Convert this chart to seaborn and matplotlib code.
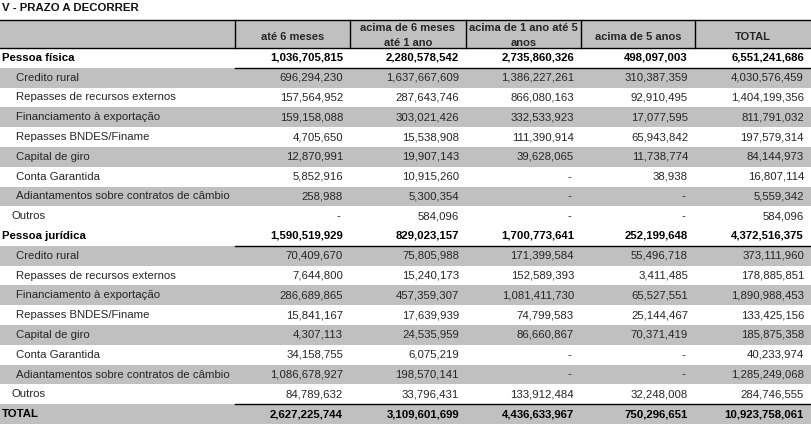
import matplotlib
matplotlib.use("Agg")
import matplotlib.pyplot as plt
from matplotlib.colors import ListedColormap
import numpy as np
import pandas as pd
import seaborn as sns

# ---------------- data ----------------
title = "V - PRAZO A DECORRER"
columns = ["até 6 meses", "acima de 6 meses\naté 1 ano", "acima de 1 ano até 5\nanos",
           "acima de 5 anos", "TOTAL"]

labels = ["Pessoa física", "Credito rural", "Repasses de recursos externos",
          "Financiamento à exportação", "Repasses BNDES/Finame", "Capital de giro",
          "Conta Garantida", "Adiantamentos sobre contratos de câmbio", "Outros",
          "Pessoa jurídica", "Credito rural", "Repasses de recursos externos",
          "Financiamento à exportação", "Repasses BNDES/Finame", "Capital de giro",
          "Conta Garantida", "Adiantamentos sobre contratos de câmbio", "Outros",
          "TOTAL"]
kinds = ["group", "item", "item", "item", "item", "item", "item", "item", "other",
         "group", "item", "item", "item", "item", "item", "item", "item", "other",
         "total"]

ate_6m = [1036705815, 696294230, 157564952, 159158088, 4705650, 12870991, 5852916, 258988, None,
          1590519929, 70409670, 7644800, 286689865, 15841167, 4307113, 34158755, 1086678927, 84789632,
          2627225744]
de_6m_1a = [2280578542, 1637667609, 287643746, 303021426, 15538908, 19907143, 10915260, 5300354, 584096,
            829023157, 75805988, 15240173, 457359307, 17639939, 24535959, 6075219, 198570141, 33796431,
            3109601699]
de_1a_5a = [2735860326, 1386227261, 866080163, 332533923, 111390914, 39628065, None, None, None,
            1700773641, 171399584, 152589393, 1081411730, 74799583, 86660867, None, None, 133912484,
            4436633967]
acima_5a = [498097003, 310387359, 92910495, 17077595, 65943842, 11738774, 38938, None, None,
            252199648, 55496718, 3411485, 65527551, 25144467, 70371419, None, None, 32248008,
            750296651]
total = [6551241686, 4030576459, 1404199356, 811791032, 197579314, 84144973, 16807114, 5559342, 584096,
         4372516375, 373111960, 178885851, 1890988453, 133425156, 185875358, 40233974, 1285249068, 284746555,
         10923758061]

df = pd.DataFrame({columns[0]: ate_6m, columns[1]: de_6m_1a, columns[2]: de_1a_5a,
                   columns[3]: acima_5a, columns[4]: total})

# ---------------- layout (pixels) ----------------
W, H = 811, 424
GRAY = "#c0c0c0"
col_edges = [0, 235, 350, 466, 581, 695, 811]
header_top, header_bot = 20, 48
n_rows = len(labels)
row_h = (H - header_bot) / n_rows

# stripe pattern: alternate items inside each group, total row shaded
shade = []
k = 0
for kind in kinds:
    if kind == "group":
        k = 0
        shade.append(0)
    elif kind == "total":
        shade.append(1)
    else:
        k += 1
        shade.append(k % 2)

fig = plt.figure(figsize=(W / 100, H / 100), dpi=100)
plt.rcParams["font.family"] = ["Liberation Sans", "DejaVu Sans"]

# row stripes through seaborn heatmap
ax_bg = fig.add_axes([0, 0, 1, (H - header_bot) / H])
sns.heatmap(pd.DataFrame({"s": shade}), cmap=ListedColormap(["white", GRAY]), vmin=0, vmax=1,
            cbar=False, xticklabels=False, yticklabels=False, ax=ax_bg)
ax_bg.set_axis_off()

# overlay in pixel coordinates
ax = fig.add_axes([0, 0, 1, 1])
ax.set_xlim(0, W)
ax.set_ylim(H, 0)
ax.set_axis_off()
ax.patch.set_alpha(0)

fs = 8.2
txt = "#262626"

ax.text(2, 8, title, fontsize=fs, fontweight="bold", color="#111111", va="center", ha="left")

# header
ax.add_patch(plt.Rectangle((0, header_top), W, header_bot - header_top, color=GRAY, lw=0))
ax.plot([0, W], [header_top, header_top], color="black", lw=1)
ax.plot([0, W], [header_bot, header_bot], color="black", lw=1)
for x in col_edges[1:-1]:
    ax.plot([x, x], [header_top, header_bot], color="black", lw=1)
for i, c in enumerate(columns):
    cx = (col_edges[i + 1] + col_edges[i + 2]) / 2
    cy = 35.5 if "\n" in c else 36.5
    ax.text(cx, cy, c, fontsize=8, fontweight="bold", color=txt,
            ha="center", va="center", linespacing=1.6)

# body
indent = {"group": 2, "item": 16, "other": 12, "total": 2}
for r in range(n_rows):
    y = header_bot + (r + 0.5) * row_h
    bold = kinds[r] in ("group", "total")
    color = "black" if bold else txt
    weight = "bold" if bold else "normal"
    ax.text(indent[kinds[r]], y, labels[r], fontsize=fs, fontweight=weight, color=color,
            ha="left", va="center")
    for j, c in enumerate(columns):
        v = df[c].iloc[r]
        xr = col_edges[j + 2] - 7
        if pd.isna(v):
            ax.text(xr - 3, y, "-", fontsize=fs, color=txt, ha="right", va="center")
        else:
            ax.text(xr, y, f"{int(v):,}", fontsize=fs, fontweight=weight, color=color,
                    ha="right", va="center")

# rules under group rows and above total
for r in range(n_rows):
    if kinds[r] == "group":
        yl = header_bot + (r + 1) * row_h
        ax.plot([col_edges[1], W], [yl, yl], color="black", lw=1)
    if kinds[r] == "total":
        yl = header_bot + r * row_h
        ax.plot([col_edges[1], W], [yl, yl], color="black", lw=1)

fig.savefig("out.png", dpi=100)
